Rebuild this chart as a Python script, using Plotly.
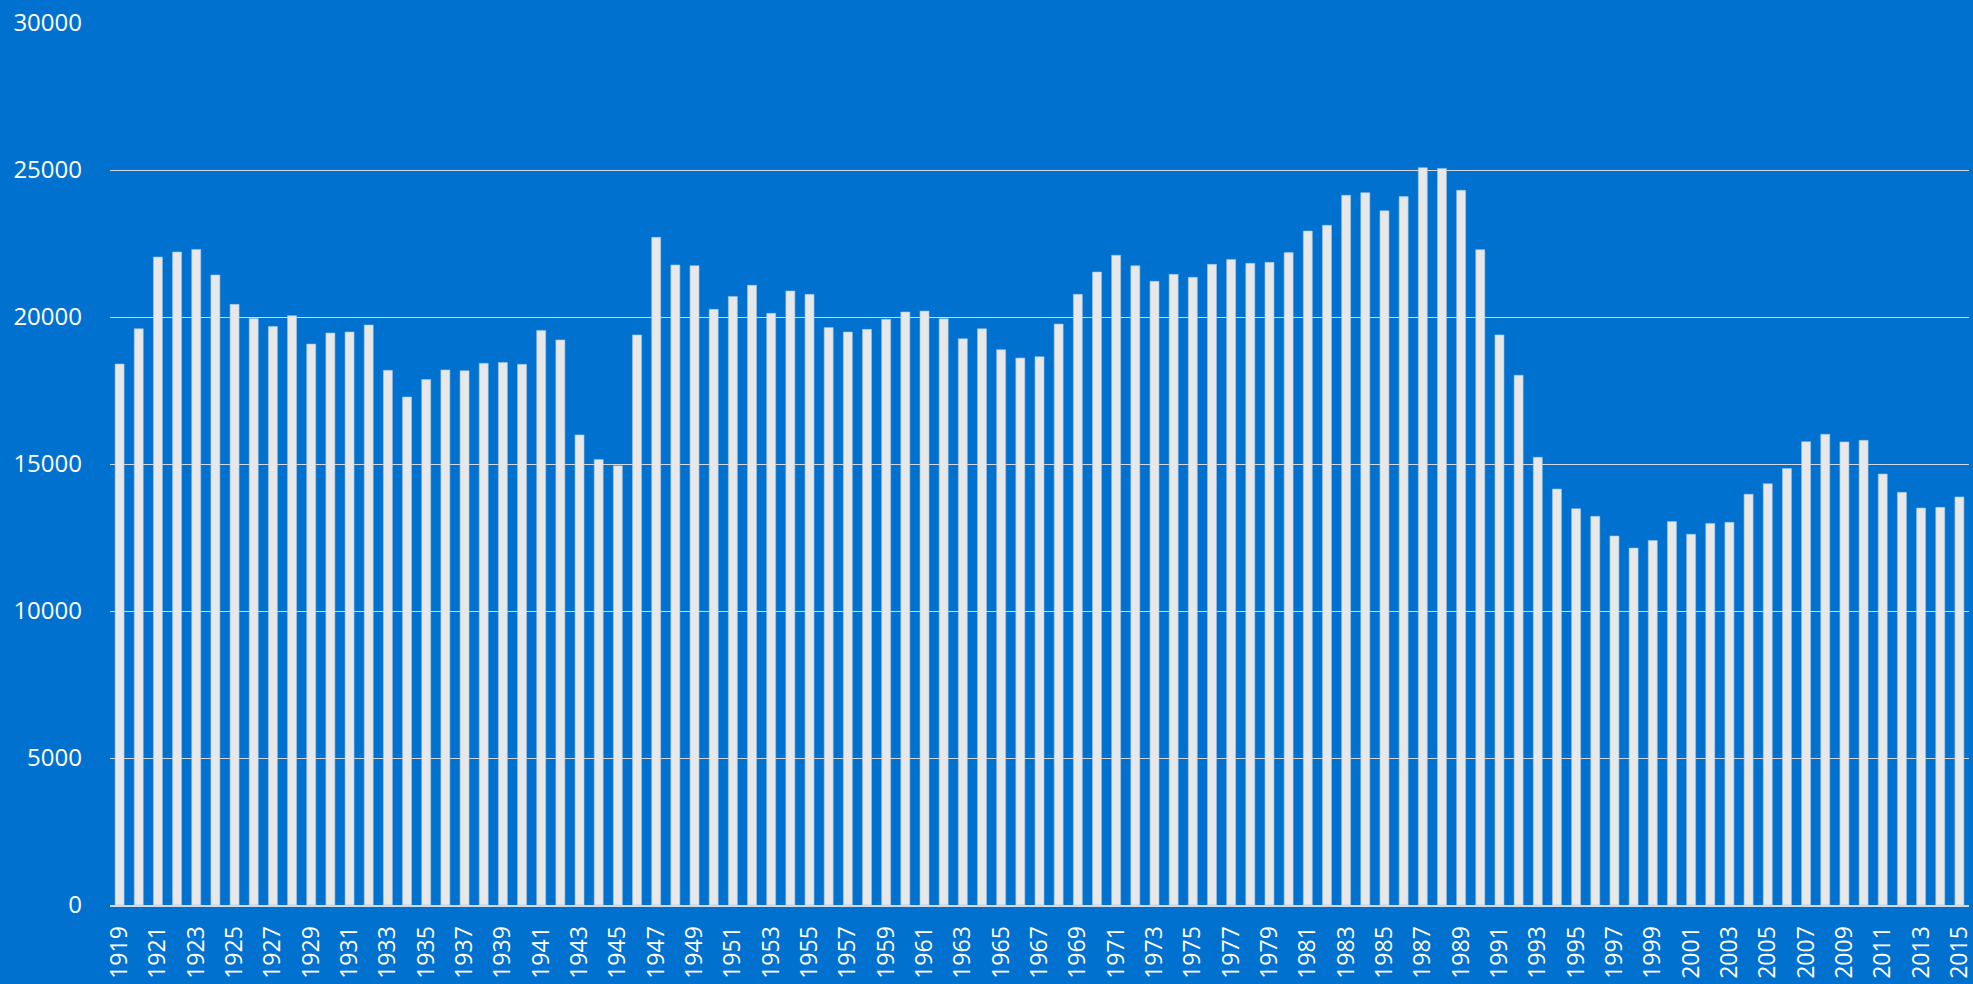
import plotly.graph_objects as go

years = list(range(1919, 2016))
values = [
    18400, 19600, 22040, 22210, 22300, 21430, 20430, 19950, 19680, 20045,  # 1919-1928
    19080, 19455, 19490, 19730, 18185, 17280, 17870, 18200, 18175, 18425,  # 1929-1938
    18455, 18390, 19545, 19220, 15990, 15150, 14940, 19390, 22710, 21770,  # 1939-1948
    21745, 20260, 20700, 21080, 20125, 20885, 20770, 19640, 19490, 19580,  # 1949-1958
    19920, 20170, 20200, 19940, 19260, 19600, 18890, 18605, 18650, 19760,  # 1959-1968
    20770, 21530, 22100, 21745, 21215, 21450, 21350, 21790, 21960, 21825,  # 1969-1978
    21860, 22190, 22925, 23120, 24140, 24230, 23615, 24095, 25080, 25055,  # 1979-1988
    24310, 22290, 19390, 18020, 15230, 14150, 13480, 13220, 12550, 12140,  # 1989-1998
    12400, 13040, 12610, 12980, 13015, 13970, 14330, 14850, 15760, 16010,  # 1999-2008
    15750, 15805, 14660, 14035, 13500, 13525, 13880,                       # 2009-2015
]
tick_years = list(range(1919, 2016, 2))
y_ticks = [0, 5000, 10000, 15000, 20000, 25000, 30000]

BG = "#0071CE"
BAR = "#E8E8E8"
GRID = "#D4D9E0"
FONT = dict(family="Open Sans, Liberation Sans, sans-serif", size=24, color="white")
XFONT = dict(family="Open Sans, Liberation Sans, sans-serif", size=23, color="white")

fig = go.Figure(
    go.Bar(
        x=years,
        y=values,
        marker=dict(color=BAR, line=dict(color="#9DC3E8", width=0.6)),
        width=0.47,
        hoverinfo="skip",
    )
)

fig.update_layout(
    width=1973,
    height=984,
    paper_bgcolor=BG,
    plot_bgcolor=BG,
    margin=dict(l=110, r=4, t=23, b=79, autoexpand=False),
    showlegend=False,
    font=FONT,
)
fig.update_xaxes(
    range=[1918.5, 2015.5],
    tickmode="array",
    tickvals=tick_years,
    ticktext=[str(y) for y in tick_years],
    tickangle=-90,
    showgrid=False,
    showline=True,
    linecolor=GRID,
    linewidth=2,
    ticks="",
    ticklabelstandoff=10,
    ticklabeloverflow="allow",
    tickfont=XFONT,
    zeroline=False,
    automargin=False,
)
fig.update_yaxes(
    range=[0, 30000],
    tickmode="array",
    tickvals=y_ticks,
    ticktext=[str(v) for v in y_ticks],
    showgrid=True,
    gridcolor=GRID,
    gridwidth=1.3,
    zeroline=False,
    ticks="",
    ticklabelstandoff=27,
    ticklabeloverflow="allow",
    tickfont=FONT,
    automargin=False,
)

fig.write_html(
    "out.html",
    config={"displayModeBar": False},
    post_script="document.body.style.margin='0';document.body.style.overflow='hidden';",
)
